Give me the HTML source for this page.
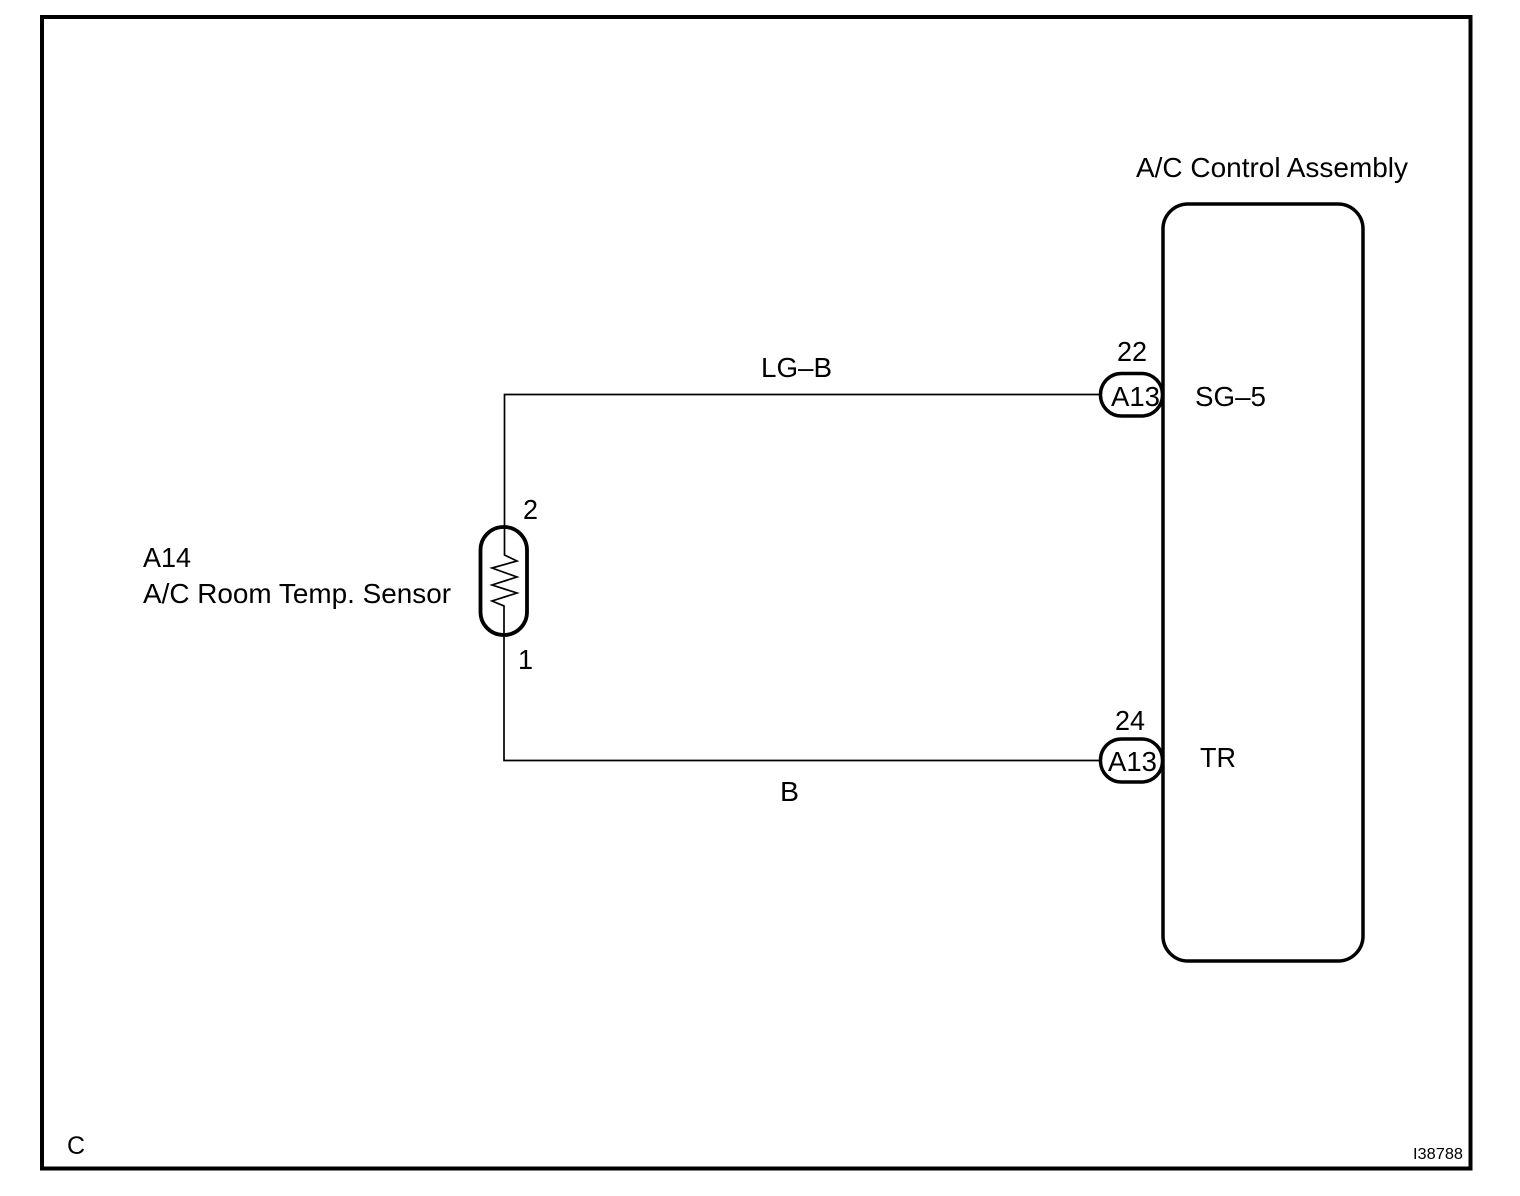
<!DOCTYPE html>
<html>
<head>
<meta charset="utf-8">
<style>
html,body{margin:0;padding:0;background:#fff;}
svg{display:block;}
text{font-family:"Liberation Sans",sans-serif;font-size:28px;fill:#000;}
</style>
</head>
<body>
<svg width="1520" height="1196" viewBox="0 0 1520 1196" xmlns="http://www.w3.org/2000/svg">
<rect x="0" y="0" width="1520" height="1196" fill="#fff"/>
<rect x="42" y="17" width="1428.500" height="1151.500" fill="none" stroke="#000" stroke-width="4"/>
<rect x="1163" y="204" width="200" height="757" rx="25" ry="25" fill="none" stroke="#000" stroke-width="3.500"/>
<path d="M1100 394.500H504.500V555L517 561L492 568L517 577L492 585L517 593L492 601L504 606V760.500H1100" fill="none" stroke="#000" stroke-width="1.700"/>
<rect x="480.500" y="527" width="46.500" height="108" rx="23" ry="23" fill="none" stroke="#000" stroke-width="3.800"/>
<rect x="1100.500" y="373.500" width="62" height="42.500" rx="21" ry="21" fill="none" stroke="#000" stroke-width="3.500"/>
<rect x="1100.500" y="739" width="62" height="43" rx="21" ry="21" fill="none" stroke="#000" stroke-width="3.500"/>
<text x="1136" y="177" textLength="272" lengthAdjust="spacingAndGlyphs">A/C Control Assembly</text>
<text x="761" y="377" textLength="71" lengthAdjust="spacingAndGlyphs">LG–B</text>
<text x="1117" y="361" textLength="30" lengthAdjust="spacingAndGlyphs">22</text>
<text x="1111" y="406" textLength="49" lengthAdjust="spacingAndGlyphs">A13</text>
<text x="1195" y="406" textLength="71" lengthAdjust="spacingAndGlyphs">SG–5</text>
<text x="523" y="519" textLength="15" lengthAdjust="spacingAndGlyphs">2</text>
<text x="143" y="567" textLength="48" lengthAdjust="spacingAndGlyphs">A14</text>
<text x="143" y="603" textLength="308" lengthAdjust="spacingAndGlyphs">A/C Room Temp. Sensor</text>
<text x="518" y="669" textLength="15" lengthAdjust="spacingAndGlyphs">1</text>
<text x="1115" y="730" textLength="30" lengthAdjust="spacingAndGlyphs">24</text>
<text x="1108" y="771" textLength="49" lengthAdjust="spacingAndGlyphs">A13</text>
<text x="1200" y="767" textLength="36" lengthAdjust="spacingAndGlyphs">TR</text>
<text x="780" y="801" textLength="19" lengthAdjust="spacingAndGlyphs">B</text>
<text x="67" y="1154" style="font-size:25px">C</text>
<text x="1413" y="1159" textLength="50" lengthAdjust="spacingAndGlyphs" style="font-size:16px">I38788</text>
</svg>
</body>
</html>
